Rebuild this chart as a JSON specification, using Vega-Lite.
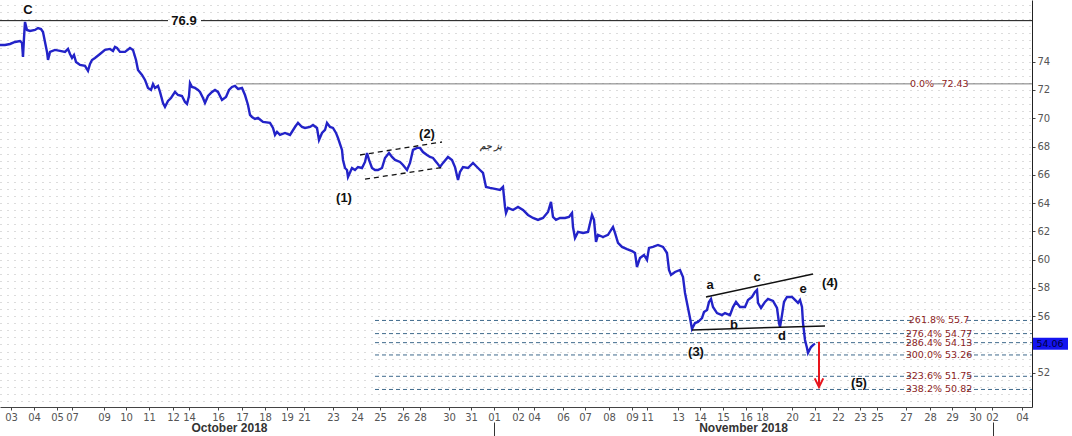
{
  "$schema": "https://vega.github.io/schema/vega-lite/v6.json",
  "width": 1032,
  "height": 407,
  "autosize": {"type": "none"},
  "padding": {"left": 0, "top": 0, "right": 40, "bottom": 29},
  "background": "white",
  "config": {"view": {"stroke": null}, "axis": {"labelFont": "DejaVu Sans", "title": null}},
  "datasets": {
    "price": [
      {"bar":0,"price":75.18},{"bar":5,"price":75.18},{"bar":10,"price":75.25},{"bar":15,"price":75.39},{"bar":20,"price":75.46},{"bar":22,"price":75.32},{"bar":23,"price":74.33},{"bar":24,"price":75.68},{"bar":25,"price":76.81},{"bar":27,"price":76.24},{"bar":30,"price":76.17},{"bar":35,"price":76.24},{"bar":38,"price":76.38},{"bar":41,"price":76.31},{"bar":43,"price":76.10},{"bar":45,"price":75.39},{"bar":47,"price":74.69},{"bar":48,"price":74.12},{"bar":50,"price":74.69},{"bar":55,"price":74.83},{"bar":60,"price":74.76},{"bar":65,"price":74.69},{"bar":68,"price":74.90},{"bar":70,"price":74.54},{"bar":72,"price":74.26},{"bar":74,"price":74.47},{"bar":76,"price":73.98},{"bar":80,"price":73.77},{"bar":85,"price":73.70},{"bar":88,"price":73.35},{"bar":90,"price":73.84},{"bar":92,"price":74.12},{"bar":95,"price":74.26},{"bar":100,"price":74.54},{"bar":105,"price":74.83},{"bar":110,"price":74.90},{"bar":113,"price":74.76},{"bar":115,"price":75.04},{"bar":117,"price":74.97},{"bar":120,"price":74.69},{"bar":125,"price":74.69},{"bar":130,"price":74.97},{"bar":133,"price":74.83},{"bar":136,"price":74.12},{"bar":138,"price":73.41},{"bar":142,"price":73.06},{"bar":145,"price":72.71},{"bar":148,"price":72.14},{"bar":151,"price":72.00},{"bar":153,"price":72.42},{"bar":155,"price":72.14},{"bar":158,"price":72.28},{"bar":160,"price":71.86},{"bar":163,"price":71.08},{"bar":165,"price":70.80},{"bar":168,"price":71.22},{"bar":171,"price":71.43},{"bar":175,"price":71.86},{"bar":178,"price":71.64},{"bar":182,"price":71.57},{"bar":185,"price":71.15},{"bar":187,"price":71.01},{"bar":189,"price":71.57},{"bar":190,"price":72.49},{"bar":192,"price":72.21},{"bar":195,"price":72.14},{"bar":198,"price":72.00},{"bar":200,"price":71.86},{"bar":203,"price":71.43},{"bar":205,"price":71.08},{"bar":208,"price":71.57},{"bar":212,"price":71.86},{"bar":215,"price":72.00},{"bar":218,"price":71.86},{"bar":220,"price":71.57},{"bar":222,"price":71.29},{"bar":226,"price":71.50},{"bar":229,"price":72.00},{"bar":232,"price":72.21},{"bar":235,"price":72.28},{"bar":238,"price":72.07},{"bar":242,"price":72.14},{"bar":245,"price":71.64},{"bar":248,"price":70.94},{"bar":250,"price":70.23},{"bar":252,"price":70.09},{"bar":255,"price":69.95},{"bar":258,"price":70.02},{"bar":263,"price":69.74},{"bar":270,"price":69.67},{"bar":273,"price":69.31},{"bar":275,"price":68.82},{"bar":277,"price":69.03},{"bar":280,"price":68.82},{"bar":285,"price":68.96},{"bar":290,"price":68.82},{"bar":295,"price":69.38},{"bar":298,"price":69.67},{"bar":302,"price":69.38},{"bar":305,"price":69.31},{"bar":310,"price":69.38},{"bar":313,"price":69.52},{"bar":317,"price":69.31},{"bar":319,"price":68.46},{"bar":322,"price":68.96},{"bar":325,"price":69.17},{"bar":327,"price":69.67},{"bar":330,"price":69.38},{"bar":333,"price":69.31},{"bar":336,"price":68.96},{"bar":338,"price":68.60},{"bar":342,"price":67.76},{"bar":343,"price":67.05},{"bar":345,"price":66.48},{"bar":347,"price":66.34},{"bar":348,"price":65.85},{"bar":352,"price":66.48},{"bar":355,"price":66.34},{"bar":358,"price":66.55},{"bar":362,"price":66.48},{"bar":365,"price":66.91},{"bar":367,"price":67.54},{"bar":369,"price":67.05},{"bar":372,"price":66.48},{"bar":375,"price":66.34},{"bar":378,"price":66.34},{"bar":382,"price":66.48},{"bar":385,"price":67.19},{"bar":389,"price":67.54},{"bar":392,"price":67.26},{"bar":395,"price":67.05},{"bar":400,"price":66.91},{"bar":403,"price":66.69},{"bar":407,"price":66.34},{"bar":410,"price":66.84},{"bar":413,"price":67.76},{"bar":417,"price":67.90},{"bar":420,"price":67.90},{"bar":423,"price":67.61},{"bar":427,"price":67.40},{"bar":430,"price":67.26},{"bar":433,"price":67.19},{"bar":437,"price":66.84},{"bar":440,"price":66.55},{"bar":443,"price":66.84},{"bar":448,"price":67.26},{"bar":452,"price":67.05},{"bar":455,"price":66.55},{"bar":458,"price":65.63},{"bar":460,"price":66.20},{"bar":463,"price":66.55},{"bar":468,"price":66.48},{"bar":473,"price":66.84},{"bar":477,"price":66.55},{"bar":480,"price":66.34},{"bar":483,"price":66.13},{"bar":486,"price":65.14},{"bar":490,"price":65.07},{"bar":495,"price":65.00},{"bar":500,"price":64.93},{"bar":503,"price":65.14},{"bar":505,"price":63.73},{"bar":506,"price":63.30},{"bar":508,"price":63.66},{"bar":513,"price":63.51},{"bar":518,"price":63.73},{"bar":523,"price":63.51},{"bar":528,"price":63.16},{"bar":533,"price":62.95},{"bar":538,"price":62.81},{"bar":543,"price":62.95},{"bar":548,"price":63.37},{"bar":551,"price":64.08},{"bar":553,"price":63.02},{"bar":556,"price":62.81},{"bar":560,"price":62.95},{"bar":565,"price":62.95},{"bar":569,"price":63.02},{"bar":572,"price":63.30},{"bar":573,"price":62.31},{"bar":575,"price":61.53},{"bar":578,"price":61.96},{"bar":583,"price":61.89},{"bar":588,"price":61.96},{"bar":592,"price":63.16},{"bar":594,"price":62.81},{"bar":596,"price":61.25},{"bar":598,"price":61.75},{"bar":603,"price":61.60},{"bar":608,"price":61.75},{"bar":613,"price":62.31},{"bar":615,"price":61.89},{"bar":618,"price":61.18},{"bar":622,"price":60.90},{"bar":627,"price":60.75},{"bar":632,"price":60.61},{"bar":635,"price":60.47},{"bar":637,"price":59.48},{"bar":640,"price":60.12},{"bar":644,"price":60.33},{"bar":647,"price":59.98},{"bar":649,"price":60.83},{"bar":653,"price":60.90},{"bar":658,"price":61.04},{"bar":663,"price":60.90},{"bar":667,"price":60.47},{"bar":669,"price":59.27},{"bar":671,"price":58.92},{"bar":675,"price":59.13},{"bar":680,"price":59.27},{"bar":683,"price":58.77},{"bar":685,"price":57.65},{"bar":687,"price":56.94},{"bar":690,"price":55.87},{"bar":692,"price":55.10},{"bar":695,"price":55.52},{"bar":698,"price":55.59},{"bar":702,"price":55.87},{"bar":704,"price":56.29},{"bar":707,"price":56.44},{"bar":709,"price":57.01},{"bar":711,"price":57.22},{"bar":713,"price":56.65},{"bar":717,"price":56.22},{"bar":722,"price":56.08},{"bar":725,"price":56.22},{"bar":730,"price":56.08},{"bar":733,"price":56.65},{"bar":736,"price":57.01},{"bar":740,"price":56.65},{"bar":745,"price":56.65},{"bar":748,"price":57.15},{"bar":752,"price":57.36},{"bar":755,"price":57.72},{"bar":757,"price":57.86},{"bar":758,"price":56.94},{"bar":761,"price":56.58},{"bar":765,"price":57.01},{"bar":768,"price":57.22},{"bar":773,"price":57.08},{"bar":777,"price":56.58},{"bar":779,"price":55.52},{"bar":780,"price":55.24},{"bar":782,"price":56.08},{"bar":784,"price":57.01},{"bar":787,"price":57.36},{"bar":792,"price":57.36},{"bar":795,"price":57.15},{"bar":798,"price":56.94},{"bar":800,"price":57.15},{"bar":802,"price":56.65},{"bar":803,"price":55.52},{"bar":805,"price":54.32},{"bar":807,"price":53.75},{"bar":808,"price":53.40},{"bar":811,"price":53.82},{"bar":813,"price":53.96},{"bar":815,"price":54.06}
    ],
    "black": [{"x0":0,"x1":168,"level":76.9},{"x0":201,"x1":1032,"level":76.9}],
    "gray": [{"x0":236,"x1":911,"level":72.43},{"x0":933,"x1":944,"level":72.43},{"x0":967,"x1":1032,"level":72.43}],
    "fib": [
      {"x0":375,"x1":911,"level":55.7},{"x0":967,"x1":1032,"level":55.7},
      {"x0":375,"x1":911,"level":54.77},{"x0":967,"x1":1032,"level":54.77},
      {"x0":375,"x1":911,"level":54.13},{"x0":967,"x1":1032,"level":54.13},
      {"x0":375,"x1":911,"level":53.26},{"x0":967,"x1":1032,"level":53.26},
      {"x0":375,"x1":911,"level":51.75},{"x0":967,"x1":1032,"level":51.75},
      {"x0":375,"x1":911,"level":50.82},{"x0":967,"x1":1032,"level":50.82}
    ],
    "fiblabels": [
      {"bar":939,"price":55.7,"t":"261.8% 55.7"},
      {"bar":939,"price":54.77,"t":"276.4% 54.77"},
      {"bar":939,"price":54.13,"t":"286.4% 54.13"},
      {"bar":939,"price":53.26,"t":"300.0% 53.26"},
      {"bar":939,"price":51.75,"t":"323.6% 51.75"},
      {"bar":939,"price":50.82,"t":"338.2% 50.82"},
      {"bar":922,"price":72.43,"t":"0.0%"},
      {"bar":955,"price":72.43,"t":"72.43"}
    ],
    "channel": [{"x0":360,"p0":67.40,"x1":442,"p1":68.32},{"x0":365,"p0":65.69,"x1":445,"p1":66.55}],
    "triangle": [{"x0":706,"p0":57.36,"x1":813,"p1":58.99},{"x0":692,"p0":55.03,"x1":825,"p1":55.31}],
    "arrow": [{"bar":819,"p0":54.2,"p1":50.98}],
    "arrowhead": [{"bar":819,"price":51.3}],
    "labels": [
      {"bar":28,"price":77.66,"t":"C"},
      {"bar":184,"price":76.9,"t":"76.9"},
      {"bar":344,"price":64.36,"t":"(1)"},
      {"bar":427,"price":68.89,"t":"(2)"},
      {"bar":696,"price":53.47,"t":"(3)"},
      {"bar":830,"price":58.35,"t":"(4)"},
      {"bar":859,"price":51.28,"t":"(5)"},
      {"bar":710,"price":58.21,"t":"a"},
      {"bar":734,"price":55.38,"t":"b"},
      {"bar":757,"price":58.78,"t":"c"},
      {"bar":782,"price":54.61,"t":"d"},
      {"bar":803,"price":57.93,"t":"e"}
    ],
    "tag": [{"x0":1033,"x1":1068,"p0":54.48,"p1":53.63,"price":54.06,"bar":1050,"t":"54.06"}],
    "mark": [{"bar":491,"price":68.04,"t":"بز جم"}]
  },
  "layer": [
    {
      "data": {"name": "black"},
      "mark": {"type": "rule", "color": "#111111", "strokeWidth": 1},
      "encoding": {
        "x": {"field": "x0", "type": "quantitative", "scale": {"domain": [0, 1032], "nice": false, "zero": false},
          "axis": {"orient": "bottom", "values": [229, 743], "labelExpr": "datum.value < 500 ? 'October 2018' : 'November 2018'", "ticks": false, "domain": false, "grid": false, "labelPadding": 15, "labelFont": "Liberation Sans", "labelFontWeight": "bold", "labelFontSize": 12, "labelColor": "#333333", "labelOverlap": false, "labelFlush": false}},
        "x2": {"field": "x1"},
        "y": {"field": "level", "type": "quantitative", "scale": {"domain": [49.58, 78.36], "nice": false, "zero": false},
          "axis": {"orient": "left", "values": [50,50.5,51,51.5,52,52.5,53,53.5,54,54.5,55,55.5,56,56.5,57,57.5,58,58.5,59,59.5,60,60.5,61,61.5,62,62.5,63,63.5,64,64.5,65,65.5,66,66.5,67,67.5,68,68.5,69,69.5,70,70.5,71,71.5,72,72.5,73,73.5,74,74.5,75,75.5,76,76.5,77,77.5,78], "grid": true, "gridDash": [1, 6], "gridColor": "#b8b8b8", "gridWidth": 1, "ticks": false, "labels": false, "domain": false}}
      }
    },
    {
      "data": {"name": "gray"},
      "mark": {"type": "rule", "color": "#7a7a7a", "strokeWidth": 1},
      "encoding": {
        "x": {"field": "x0", "type": "quantitative", "scale": {"domain": [0, 1032], "nice": false, "zero": false}, "axis": null},
        "x2": {"field": "x1"},
        "y": {"field": "level", "type": "quantitative", "scale": {"domain": [49.58, 78.36], "nice": false, "zero": false}, "axis": null}
      }
    },
    {
      "data": {"name": "fib"},
      "mark": {"type": "rule", "color": "#3f6a8c", "strokeWidth": 1, "strokeDash": [4, 3]},
      "encoding": {
        "x": {"field": "x0", "type": "quantitative", "scale": {"domain": [0, 1032], "nice": false, "zero": false}, "axis": null},
        "x2": {"field": "x1"},
        "y": {"field": "level", "type": "quantitative", "scale": {"domain": [49.58, 78.36], "nice": false, "zero": false}, "axis": null}
      }
    },
    {
      "data": {"name": "price"},
      "mark": {"type": "line", "color": "#2323c8", "strokeWidth": 2.4, "strokeJoin": "miter"},
      "encoding": {
        "x": {"field": "bar", "type": "quantitative", "scale": {"domain": [0, 1032], "nice": false, "zero": false},
          "axis": {"orient": "bottom", "values": [11,34,57,72,104,126,149,173,189,218,242,265,287,304,333,357,380,403,420,449,471,494,518,534,563,585,609,632,647,678,700,723,746,762,792,815,838,860,877,906,930,952,975,992,1022],
            "labelExpr": "['03','04','05','07','09','10','11','12','14','16','17','18','19','21','23','24','25','26','28','30','31','01','02','04','06','07','08','09','11','13','14','15','16','18','20','21','22','23','25','27','28','29','30','02','04'][indexof([11,34,57,72,104,126,149,173,189,218,242,265,287,304,333,357,380,403,420,449,471,494,518,534,563,585,609,632,647,678,700,723,746,762,792,815,838,860,877,906,930,952,975,992,1022], datum.value)]",
            "tickSize": 3, "labelPadding": 2, "domainColor": "#444444", "tickColor": "#444444", "labelColor": "#555555", "labelFontSize": 10, "grid": false, "labelOverlap": false, "labelFlush": false}},
        "y": {"field": "price", "type": "quantitative", "scale": {"domain": [49.58, 78.36], "nice": false, "zero": false},
          "axis": {"orient": "right", "values": [52,56,58,60,62,64,66,68,70,72,74], "tickSize": 3, "labelPadding": 2, "domainColor": "#222222", "tickColor": "#444444", "labelColor": "#555555", "labelFontSize": 10, "grid": false}}
      }
    },
    {
      "data": {"name": "channel"},
      "mark": {"type": "rule", "color": "#111111", "strokeWidth": 1.3, "strokeDash": [5, 4]},
      "encoding": {
        "x": {"field": "x0", "type": "quantitative", "scale": {"domain": [0, 1032], "nice": false, "zero": false},
          "axis": {"orient": "bottom", "values": [494, 993], "labels": false, "domain": false, "grid": false, "tickSize": 14, "offset": 15, "tickColor": "#333333"}},
        "x2": {"field": "x1"},
        "y": {"field": "p0", "type": "quantitative", "scale": {"domain": [49.58, 78.36], "nice": false, "zero": false}, "axis": null},
        "y2": {"field": "p1"}
      }
    },
    {
      "data": {"name": "triangle"},
      "mark": {"type": "rule", "color": "#111111", "strokeWidth": 1.5},
      "encoding": {
        "x": {"field": "x0", "type": "quantitative", "scale": {"domain": [0, 1032], "nice": false, "zero": false}, "axis": null},
        "x2": {"field": "x1"},
        "y": {"field": "p0", "type": "quantitative", "scale": {"domain": [49.58, 78.36], "nice": false, "zero": false}, "axis": null},
        "y2": {"field": "p1"}
      }
    },
    {
      "data": {"name": "arrow"},
      "mark": {"type": "rule", "color": "#e8141c", "strokeWidth": 2},
      "encoding": {
        "x": {"field": "bar", "type": "quantitative", "scale": {"domain": [0, 1032], "nice": false, "zero": false}, "axis": null},
        "y": {"field": "p0", "type": "quantitative", "scale": {"domain": [49.58, 78.36], "nice": false, "zero": false}, "axis": null},
        "y2": {"field": "p1"}
      }
    },
    {
      "data": {"name": "arrowhead"},
      "mark": {"type": "point", "shape": "M-0.9,-0.9L0,0.9L0.9,-0.9", "filled": false, "stroke": "#e8141c", "strokeWidth": 2, "size": 90, "opacity": 1},
      "encoding": {
        "x": {"field": "bar", "type": "quantitative", "scale": {"domain": [0, 1032], "nice": false, "zero": false}, "axis": null},
        "y": {"field": "price", "type": "quantitative", "scale": {"domain": [49.58, 78.36], "nice": false, "zero": false}, "axis": null}
      }
    },
    {
      "data": {"name": "labels"},
      "mark": {"type": "text", "font": "Liberation Sans", "fontWeight": "bold", "fontSize": 13, "color": "#111111", "align": "center", "baseline": "middle"},
      "encoding": {
        "x": {"field": "bar", "type": "quantitative", "scale": {"domain": [0, 1032], "nice": false, "zero": false}, "axis": null},
        "y": {"field": "price", "type": "quantitative", "scale": {"domain": [49.58, 78.36], "nice": false, "zero": false}, "axis": null},
        "text": {"field": "t"}
      }
    },
    {
      "data": {"name": "fiblabels"},
      "mark": {"type": "text", "font": "DejaVu Sans", "fontSize": 9.5, "color": "#8b1c1c", "align": "center", "baseline": "middle"},
      "encoding": {
        "x": {"field": "bar", "type": "quantitative", "scale": {"domain": [0, 1032], "nice": false, "zero": false}, "axis": null},
        "y": {"field": "price", "type": "quantitative", "scale": {"domain": [49.58, 78.36], "nice": false, "zero": false}, "axis": null},
        "text": {"field": "t"}
      }
    },
    {
      "data": {"name": "tag"},
      "mark": {"type": "rect", "color": "#1414f0"},
      "encoding": {
        "x": {"field": "x0", "type": "quantitative", "scale": {"domain": [0, 1032], "nice": false, "zero": false}, "axis": null},
        "x2": {"field": "x1"},
        "y": {"field": "p0", "type": "quantitative", "scale": {"domain": [49.58, 78.36], "nice": false, "zero": false}, "axis": null},
        "y2": {"field": "p1"}
      }
    },
    {
      "data": {"name": "tag"},
      "mark": {"type": "text", "font": "DejaVu Sans", "fontSize": 9.5, "color": "#00003c", "align": "center", "baseline": "middle"},
      "encoding": {
        "x": {"field": "bar", "type": "quantitative", "scale": {"domain": [0, 1032], "nice": false, "zero": false}, "axis": null},
        "y": {"field": "price", "type": "quantitative", "scale": {"domain": [49.58, 78.36], "nice": false, "zero": false}, "axis": null},
        "text": {"field": "t"}
      }
    },
    {
      "data": {"name": "mark"},
      "mark": {"type": "text", "font": "DejaVu Sans", "fontSize": 9, "fontWeight": "bold", "fontStyle": "italic", "color": "#333333", "align": "center", "baseline": "middle"},
      "encoding": {
        "x": {"field": "bar", "type": "quantitative", "scale": {"domain": [0, 1032], "nice": false, "zero": false}, "axis": null},
        "y": {"field": "price", "type": "quantitative", "scale": {"domain": [49.58, 78.36], "nice": false, "zero": false}, "axis": null},
        "text": {"field": "t"}
      }
    }
  ],
  "resolve": {"axis": {"x": "independent", "y": "independent"}}
}
